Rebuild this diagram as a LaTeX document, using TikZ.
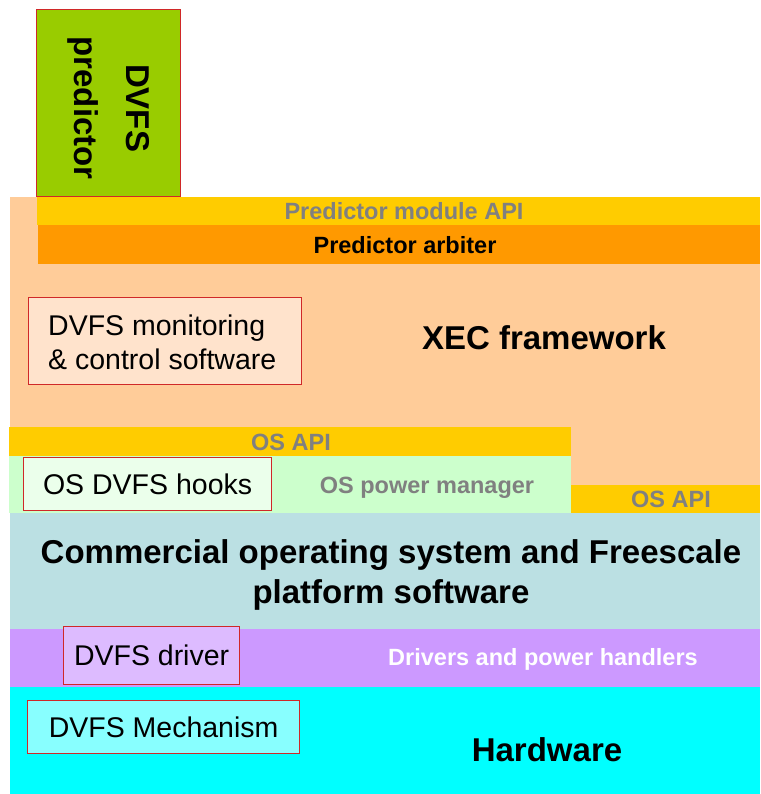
\documentclass[tikz,border=0pt]{standalone}
\usepackage{fontspec}
\setmainfont{Liberation Sans}
\definecolor{cgreen}{HTML}{99CC00}
\definecolor{cpeach}{HTML}{FFCC99}
\definecolor{cyellow}{HTML}{FFCC00}
\definecolor{corange}{HTML}{FF9900}
\definecolor{clgreen}{HTML}{CCFFCC}
\definecolor{cblue}{HTML}{BBE0E3}
\definecolor{cpurple}{HTML}{CC99FF}
\definecolor{ccyan}{HTML}{00FFFF}
\definecolor{cgray}{HTML}{808080}
\definecolor{cred}{HTML}{D02828}
\definecolor{fpeach}{HTML}{FFE3CC}
\definecolor{fgreen}{HTML}{EBFFEB}
\definecolor{fpurple}{HTML}{DDBBFF}
\definecolor{fcyan}{HTML}{88FFFF}
\tikzset{
  bigtext/.style={font=\fontsize{33}{40}\selectfont\bfseries, inner sep=0pt, align=center},
  regtext/.style={font=\fontsize{28.5}{34}\selectfont, inner sep=0pt},
  smalltext/.style={font=\fontsize{23.5}{28}\selectfont\bfseries, inner sep=0pt},
  redbox/.style={draw=cred, line width=1.2pt, inner sep=0pt, anchor=north west},
}
\begin{document}
\begin{tikzpicture}[x=1pt,y=-1pt]
\useasboundingbox (0,0) rectangle (760,794);
% layers
\fill[cpeach] (10,197) rectangle (760,485);
\fill[cyellow] (37,197) rectangle (760,225);
\fill[corange] (38,225) rectangle (760,264);
\fill[cyellow] (9,427) rectangle (571,456);
\fill[clgreen] (9,456) rectangle (571,513);
\fill[cyellow] (571,485) rectangle (760,513);
\fill[cblue] (10,513) rectangle (760,629);
\fill[cpurple] (10,629) rectangle (760,687);
\fill[ccyan] (10,687) rectangle (760,794);
% DVFS predictor
\node[redbox, fill=cgreen, minimum width=144pt, minimum height=187pt] (pred) at (36,9) {};
\node[bigtext, rotate=-90, font=\fontsize{33}{52}\selectfont\bfseries] (predt) at ([yshift=-5pt]pred.center) {DVFS\\predictor};
% labels of layers
\node[smalltext, text=cgray] (api) at (404,211) {Predictor module API};
\node[smalltext] (arb) at (405,245) {Predictor arbiter};
\node[bigtext] (xec) at (544,338) {XEC framework};
\node[redbox, fill=fpeach, minimum width=273pt, minimum height=87pt] (mon) at (28,297) {};
\node[regtext, align=left, anchor=west] (mont) at (48,342) {DVFS monitoring\\\& control software};
\node[smalltext, text=cgray] (osapi1) at (291,442) {OS API};
\node[redbox, fill=fgreen, minimum width=248pt, minimum height=53pt] (hooks) at (23,457) {};
\node[regtext] (hookst) at (hooks.center) {OS DVFS hooks};
\node[smalltext, text=cgray] (pm) at (427,488) {OS power manager};
\node[smalltext, text=cgray] (osapi2) at (671,499) {OS API};
\node[bigtext] (cos) at (391,575) {Commercial operating system and Freescale\\platform software};
\node[redbox, fill=fpurple, minimum width=176pt, minimum height=58pt] (drv) at (63,626) {};
\node[regtext] (drvt) at (drv.center) {DVFS driver};
\node[smalltext, text=white] (drivers) at (543,659) {Drivers and power handlers};
\node[redbox, fill=fcyan, minimum width=272pt, minimum height=53pt] (mech) at (27,700) {};
\node[regtext] (mecht) at (mech.center) {DVFS Mechanism};
\node[bigtext] (hw) at (547,750) {Hardware};
\end{tikzpicture}
\end{document}
